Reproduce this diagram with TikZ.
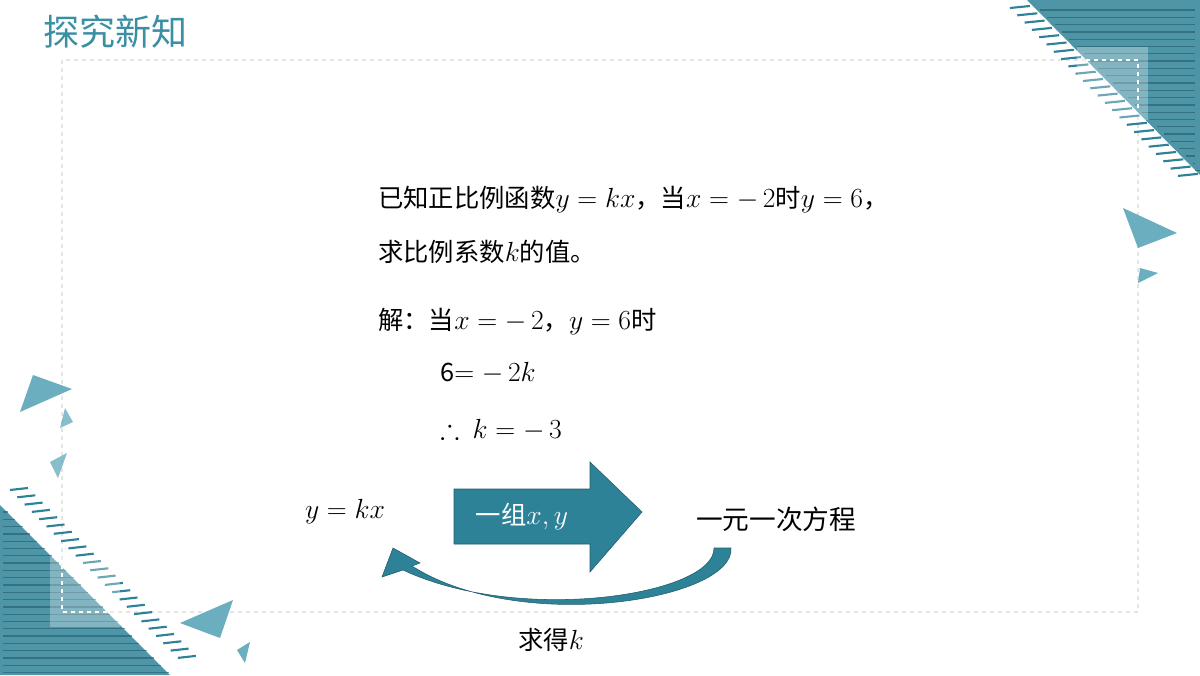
\documentclass[tikz,border=0pt]{standalone}
\usepackage{fontspec}
\usepackage{amsmath,amssymb}
\DeclareMathSizes{19}{21.5}{15}{11}
\DeclareMathSizes{20}{22.5}{16}{12}
\setmainfont{Noto Sans CJK SC}
\definecolor{teal1}{HTML}{3A8FA3}
\definecolor{arr}{HTML}{2E8297}
\definecolor{tri}{HTML}{6AAEC0}
\definecolor{fr}{HTML}{E4E4E4}
\begin{document}
\begin{tikzpicture}[x=0.75pt,y=-0.75pt,
  txt/.style={anchor=west,font=\fontsize{19}{21}\selectfont,inner sep=0pt},
  trif/.style={fill=tri,draw=none}]
\useasboundingbox (0,0) rectangle (1200,675);
\fill[white] (0,0) rectangle (1200,675);
% frame
\draw[fr,dashed,line width=0.8pt] (62,60) rectangle (1138,612);
% top-right decoration
\fill[arr!85] (1027,0) -- (1200,0) -- (1200,175) -- cycle;
\foreach \i in {0,...,23}{
  \draw[arr,line width=1.6pt] ({1010+7.3*\i},{8+7.3*\i}) -- ({1030+7.3*\i},{6+7.3*\i});
}
\foreach \i in {0,...,22}{
  \draw[arr!70!black,line width=1pt,opacity=0.6] ({1040+7.3*\i},{10+7.3*\i}) -- (1195,{10+7.3*\i});
}
\fill[white,opacity=0.3] (1077,47) rectangle (1148,120);
\draw[white,dashed,line width=0.8pt] (1070,60) -- (1138,60) -- (1138,110);
% bottom-left decoration
\fill[arr!85] (0,505) -- (0,675) -- (170,675) -- cycle;
\foreach \i in {0,...,23}{
  \draw[arr,line width=1.6pt] ({10+7.3*\i},{490+7.3*\i}) -- ({28+7.3*\i},{488+7.3*\i});
}
\foreach \i in {0,...,22}{
  \draw[arr!70!black,line width=1pt,opacity=0.6] (3,{512+7.3*\i}) -- ({8+7.3*\i},{512+7.3*\i});
}
\fill[white,opacity=0.3] (50,557) rectangle (120,627);
\draw[white,dashed,line width=0.8pt] (62,565) -- (62,612) -- (110,612);
% triangles
\fill[trif] (33,375) -- (72,389) -- (20,412) -- cycle;
\fill[trif,opacity=0.8] (65,408) -- (73,422) -- (60,428) -- cycle;
\fill[trif,opacity=0.8] (50,462) -- (67,453) -- (58,478) -- cycle;
\fill[trif] (180,623) -- (233,600) -- (220,638) -- cycle;
\fill[trif] (237,650) -- (250,642) -- (245,663) -- cycle;
\fill[trif] (1123,208) -- (1177,233) -- (1138,248) -- cycle;
\fill[trif] (1140,268) -- (1158,273) -- (1138,283) -- cycle;
% title
\node[anchor=west,inner sep=0pt,text=teal1,font=\fontsize{27}{29}\selectfont] (title) at (43,32) {探究新知};
% problem
\node[txt] (p1) at (378,200) {已知正比例函数$y=kx$，当$x=-\,2$时$y=6$，};
\node[txt] (p2) at (378,252) {求比例系数$k$的值。};
\node[txt] (s1) at (378,322) {解：当$x=-\,2$，$y=6$时};
\node[txt] (s2) at (440,373) {6$=-\,2k$};
\node[txt] (s3) at (440,430) {$\therefore\ k=-\,3$};
% block arrow
\fill[arr,draw=arr!70!black,line width=0.4pt] (454,489) -- (590,489) -- (590,462) -- (642,512) -- (590,572) -- (590,544) -- (454,544) -- cycle;
\node[txt,anchor=center,text=white] (g) at (522,517) {一组$x,y$};
\node[txt,anchor=center] (yk) at (345,512) {$y=kx$};
\node[txt,anchor=center,font=\fontsize{20}{23}\selectfont] (eq) at (776,519) {一元一次方程};
\node[txt,anchor=center] (qk) at (551,640) {求得$k$};
% curved arrow
\fill[arr,draw=arr!70!black,line width=0.4pt] (731,548) .. controls (735,600) and (520,635) .. (412,566)
  -- (420,563) -- (393,548) -- (382,577) -- (403,570)
  .. controls (520,625) and (715,595) .. (714,548) -- cycle;
\end{tikzpicture}
\end{document}
